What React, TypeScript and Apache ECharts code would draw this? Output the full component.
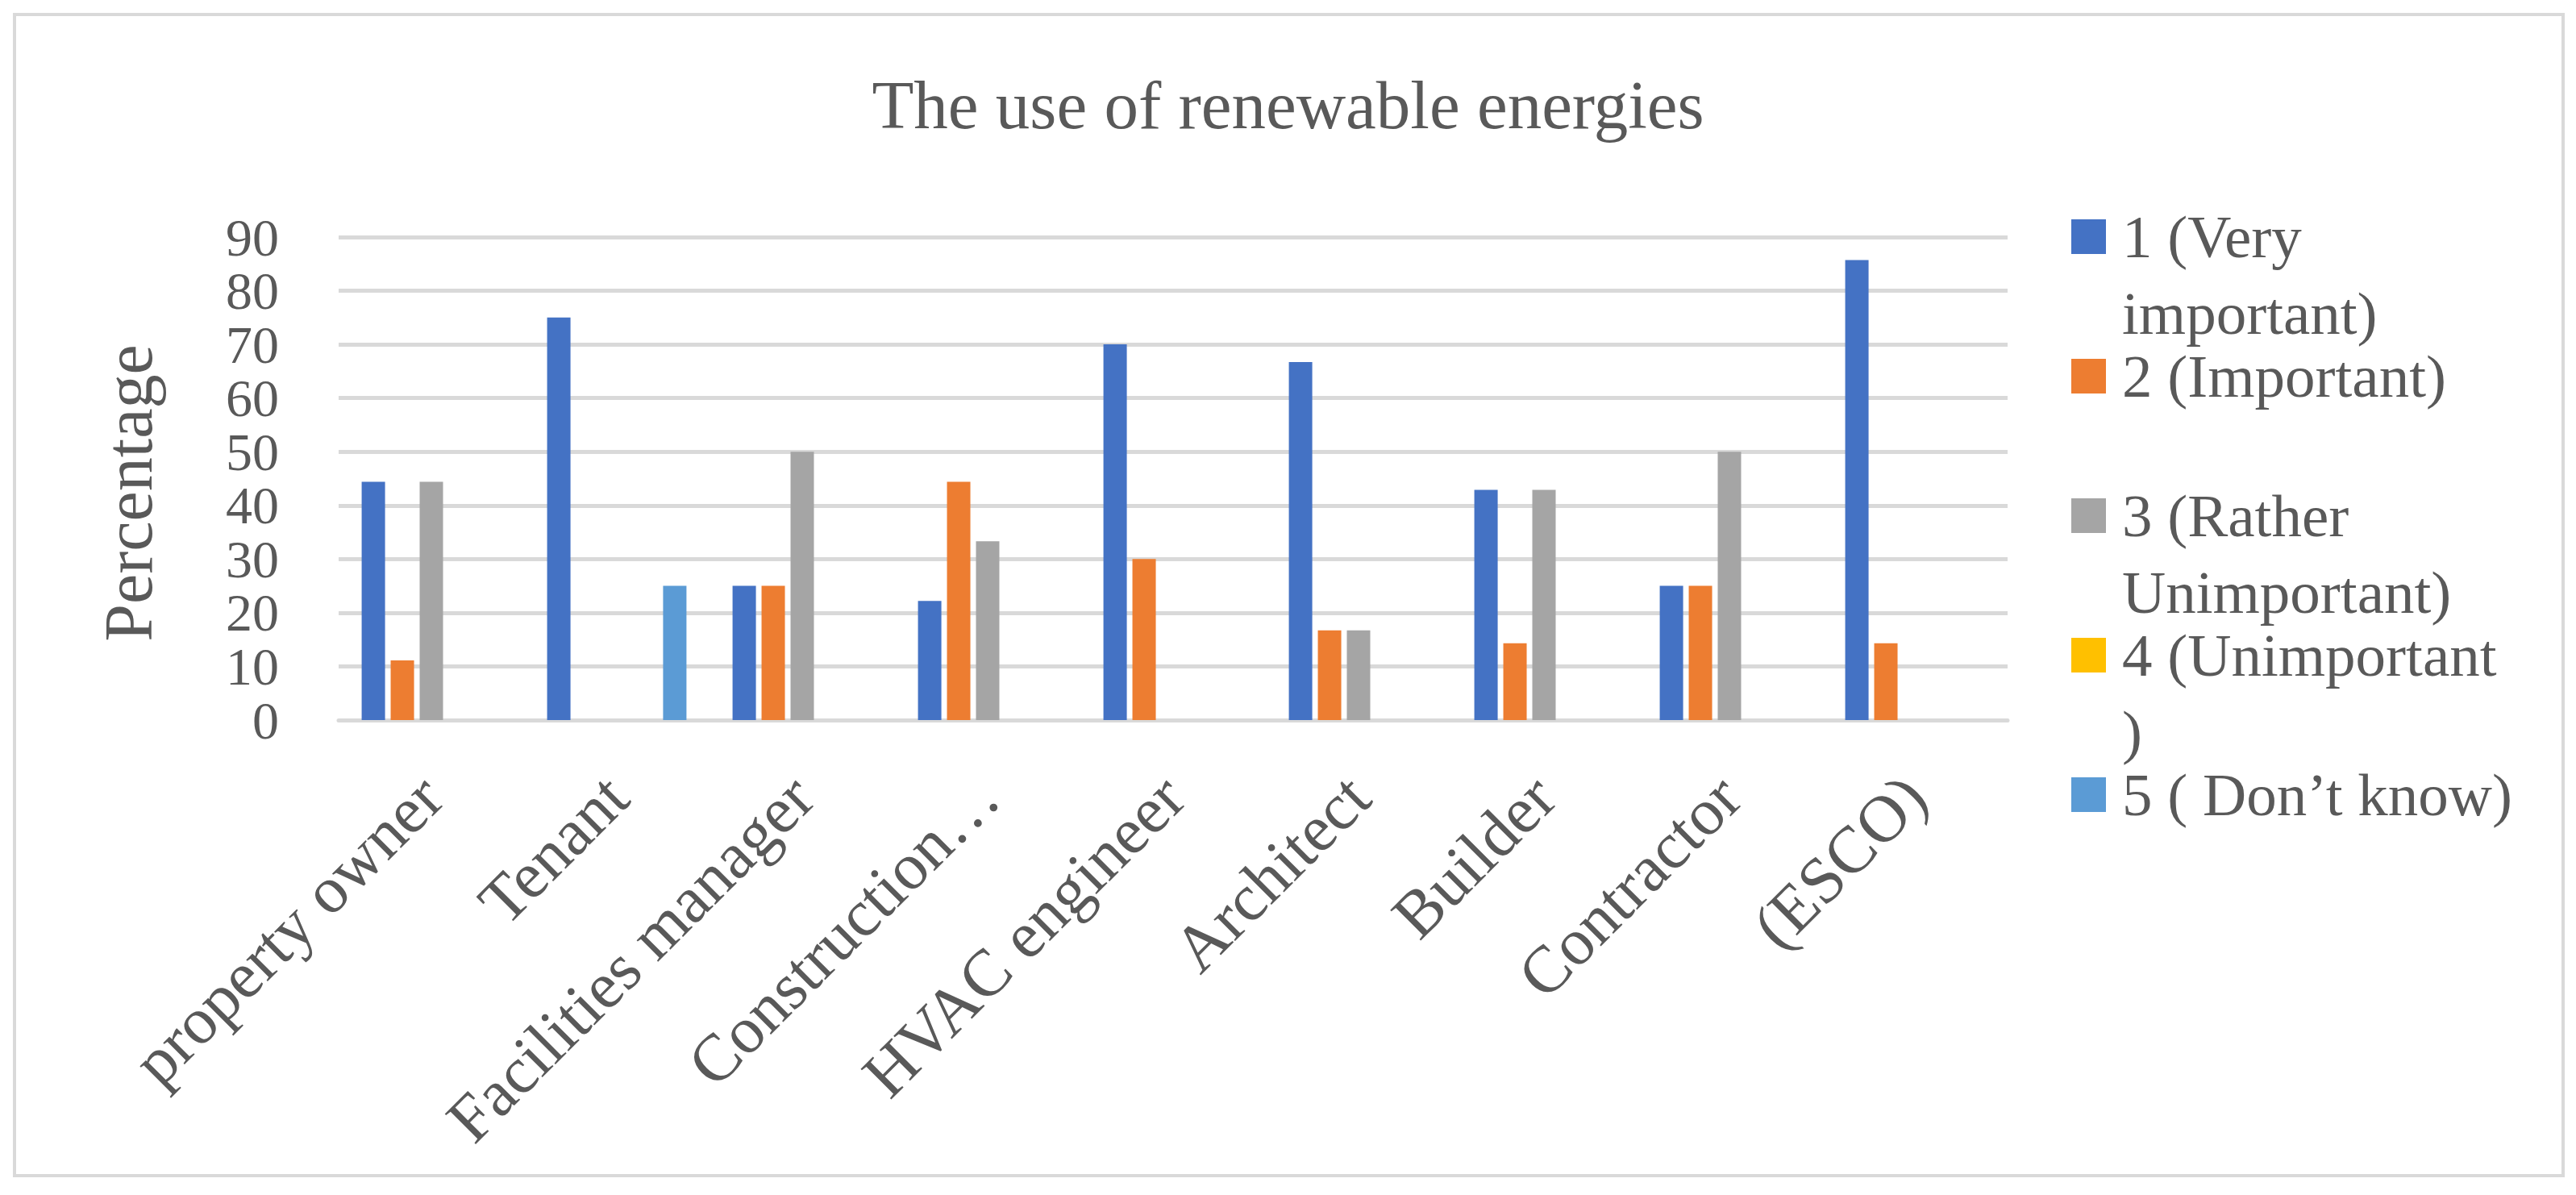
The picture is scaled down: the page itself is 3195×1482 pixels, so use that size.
import React, { useEffect, useRef } from 'react';
import * as echarts from 'echarts';

const categories = [
  'property owner',
  'Tenant',
  'Facilities manager',
  'Construction…',
  'HVAC engineer',
  'Architect',
  'Builder',
  'Contractor',
  '(ESCO)',
];

const seriesNames = [
  '1 (Very important)',
  '2 (Important)',
  '3 (Rather Unimportant)',
  '4 (Unimportant)',
  '5 ( Don’t know)',
];

// legend text as wrapped in the reference (first line is a spacer so the marker sits beside line one)
const legendLabels = [
  '\n1 (Very\nimportant)',
  '\n2 (Important)\n',
  '\n3 (Rather\nUnimportant)',
  '\n4 (Unimportant\n)',
  '\n5 ( Don’t know)\n',
];

const veryImportant = [44.4, 75, 25, 22.2, 70, 66.7, 42.9, 25, 85.7];
const important = [11.1, null, 25, 44.4, 30, 16.7, 14.3, 25, 14.3];
const ratherUnimportant = [44.4, null, 50, 33.3, null, 16.7, 42.9, 50, null];
const unimportant = [null, null, null, null, null, null, null, null, null];
const dontKnow = [null, 25, null, null, null, null, null, null, null];

const seriesValues = [veryImportant, important, ratherUnimportant, unimportant, dontKnow];
const seriesColors = ['#4472C4', '#ED7D31', '#A5A5A5', '#FFC000', '#5B9BD5'];

const yTicks = { min: 0, max: 90, interval: 10 };

const FONT = "'Liberation Serif', serif";
const TEXT = '#595959';

export default function App() {
  const ref = useRef<HTMLDivElement>(null);

  useEffect(() => {
    document.body.style.margin = '0';
    if (!ref.current) return;
    const chart = echarts.init(ref.current, null, { renderer: 'svg' });
    const labelMap: Record<string, string> = {};
    seriesNames.forEach((n, i) => (labelMap[n] = legendLabels[i]));

    chart.setOption({
      animation: false,
      backgroundColor: '#ffffff',
      title: {
        text: 'The use of renewable energies',
        left: 'center',
        top: 87,
        padding: 0,
        textStyle: { fontFamily: FONT, fontSize: 85, fontWeight: 'normal', color: TEXT },
      },
      graphic: [
        {
          type: 'rect',
          silent: true,
          z: -10,
          shape: { x: 18, y: 18, width: 3161, height: 1440 },
          style: { fill: 'none', stroke: '#d9d9d9', lineWidth: 4 },
        },
      ],
      legend: {
        orient: 'vertical',
        left: 2569,
        top: 151,
        padding: 0,
        itemWidth: 43,
        itemHeight: 43,
        itemGap: -112,
        icon: 'rect',
        data: seriesNames,
        formatter: (name: string) => labelMap[name] || name,
        textStyle: {
          fontFamily: FONT,
          fontSize: 75,
          color: TEXT,
          lineHeight: 95,
          padding: [0, 0, 0, 15],
        },
      },
      grid: { left: 420, right: 705, top: 294, bottom: 589, containLabel: false },
      xAxis: {
        type: 'category',
        data: categories,
        axisLine: { show: true, lineStyle: { color: '#d9d9d9', width: 5 } },
        axisTick: { show: false },
        axisLabel: {
          rotate: 45,
          interval: 0,
          margin: 82,
          fontFamily: FONT,
          fontSize: 82,
          color: TEXT,
        },
      },
      yAxis: {
        type: 'value',
        min: yTicks.min,
        max: yTicks.max,
        interval: yTicks.interval,
        name: 'Percentage',
        nameLocation: 'middle',
        nameRotate: 90,
        nameGap: 219,
        nameTextStyle: { fontFamily: FONT, fontSize: 84, color: TEXT, padding: [0, 36, 0, 0] },
        axisLine: { show: false },
        axisTick: { show: false },
        axisLabel: {
          fontFamily: FONT,
          fontSize: 66,
          lineHeight: 60,
          color: TEXT,
          margin: 74,
          hideOverlap: false,
          showMinLabel: true,
          showMaxLabel: true,
        },
        splitLine: { lineStyle: { color: '#d9d9d9', width: 5 } },
      },
      series: seriesNames.map((name, i) => ({
        name,
        type: 'bar',
        data: seriesValues[i],
        barWidth: 29,
        barGap: '24%',
        itemStyle: { color: seriesColors[i] },
      })),
    });

    return () => chart.dispose();
  }, []);

  return <div ref={ref} style={{ width: 3195, height: 1482 }} />;
}
